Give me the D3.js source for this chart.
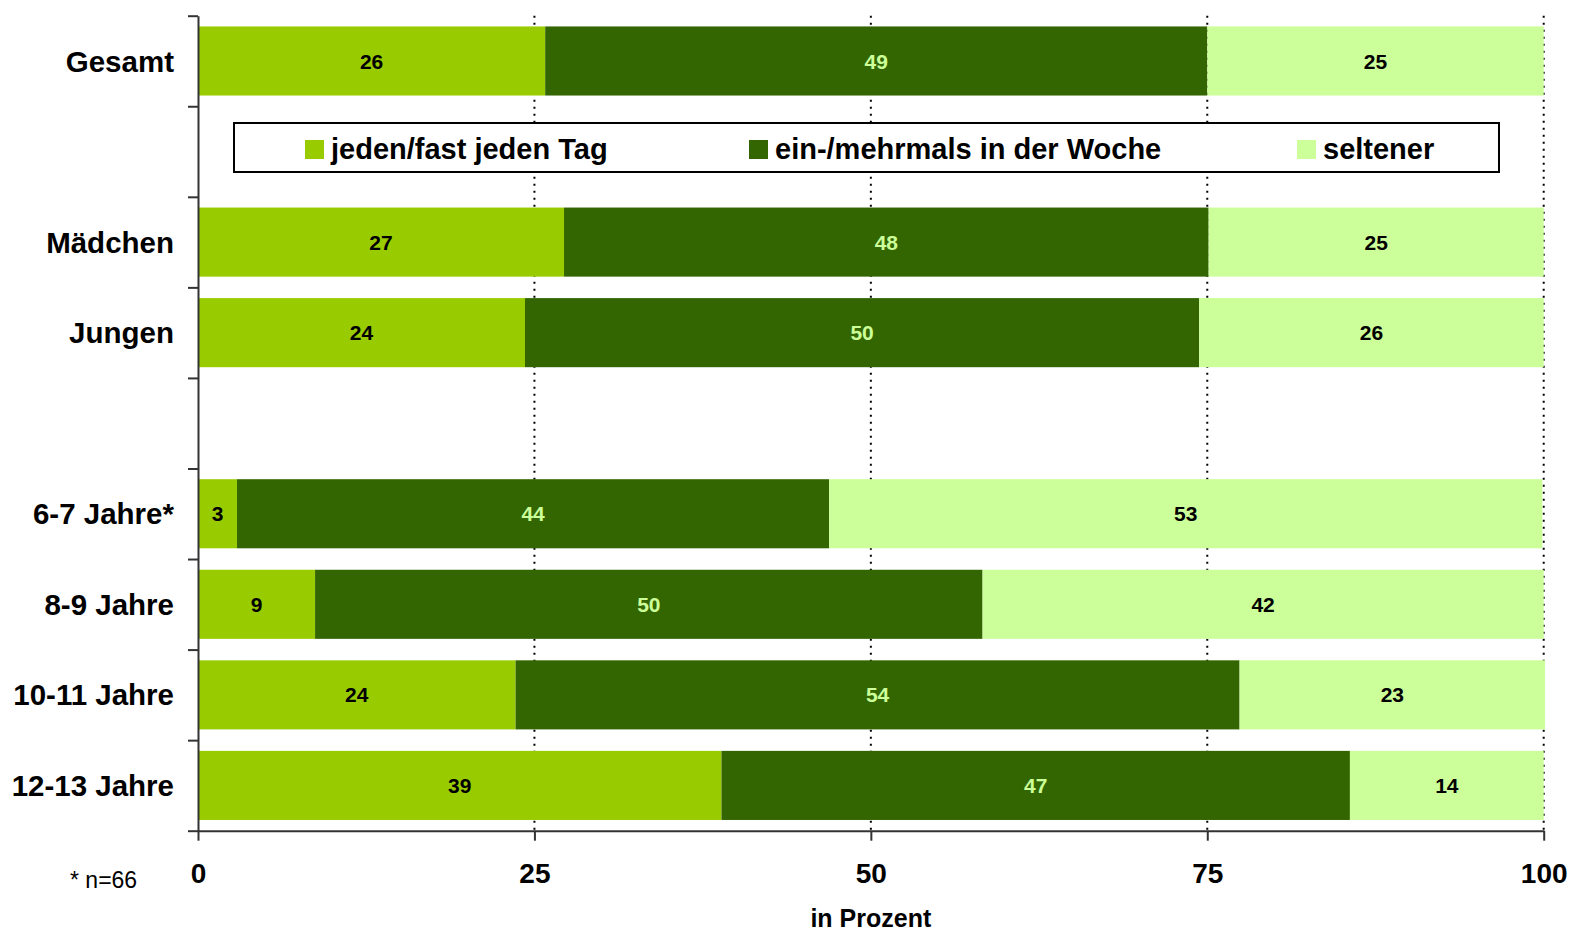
<!DOCTYPE html>
<html>
<head>
<meta charset="utf-8">
<script src="https://cdn.jsdelivr.net/npm/d3@7"></script>
<style>
  html, body { margin: 0; padding: 0; background: #fff; }
  svg { display: block; font-family: "Liberation Sans", Arial, sans-serif; }
</style>
</head>
<body>
<svg id="chart" width="1576" height="938"></svg>
<script>
// ---- data ----
const slots = ["Gesamt", "", "Mädchen", "Jungen", "", "6-7 Jahre*", "8-9 Jahre", "10-11 Jahre", "12-13 Jahre"];
const categories = ["Gesamt", "Mädchen", "Jungen", "6-7 Jahre*", "8-9 Jahre", "10-11 Jahre", "12-13 Jahre"];
const seriesNames = ["jeden/fast jeden Tag", "ein-/mehrmals in der Woche", "seltener"];
const daily  = [25.8, 27.2, 24.3, 2.9, 8.7, 23.6, 38.9];
const weekly = [49.2, 47.9, 50.1, 44.0, 49.6, 53.8, 46.7];
const rarely = [25.0, 24.9, 25.6, 53.0, 41.7, 22.7, 14.4];
const xTicks = [0, 25, 50, 75, 100];
const gridValues = [25, 50, 75, 100];
const footnote = "* n=66";
const xTitle = "in Prozent";

const colors = ["#99CC00", "#336600", "#CCFF99"];
const labelColors = ["#000000", "#CCFF99", "#000000"];

// ---- layout ----
const svg = d3.select("#chart");
const x = d3.scaleLinear().domain([0, 100]).range([198, 1543.7]);
const yTop = 15.7, yBottom = 830.7;
const slotKeys = slots.map((s, i) => i);
const y = d3.scaleBand().domain(slotKeys).range([yTop, yBottom]).paddingInner(0.237).paddingOuter(0.1185);
const ySlot = d3.scaleLinear().domain([0, slots.length]).range([yTop, yBottom]);

const rows = categories.map((c, i) => ({ cat: c, slot: slots.indexOf(c), vals: [daily[i], weekly[i], rarely[i]] }));
const stackData = rows.map(r => ({ slot: r.slot, s0: r.vals[0], s1: r.vals[1], s2: r.vals[2] }));
const stacked = d3.stack().keys(["s0", "s1", "s2"])(stackData);

// gridlines (under bars)
svg.append("g").selectAll("line").data(gridValues).join("line")
  .attr("x1", d => x(d)).attr("x2", d => x(d))
  .attr("y1", yTop).attr("y2", yBottom)
  .attr("stroke", "#000").attr("stroke-width", 2)
  .attr("stroke-dasharray", "2,5");

// bars
const layers = svg.append("g").selectAll("g").data(stacked).join("g")
  .attr("fill", (d, i) => colors[i]);
layers.selectAll("rect").data(d => d).join("rect")
  .attr("x", d => x(d[0]))
  .attr("y", d => y(d.data.slot))
  .attr("width", d => x(d[1]) - x(d[0]))
  .attr("height", y.bandwidth());

// value labels
const labelG = svg.append("g");
stacked.forEach((layer, li) => {
  labelG.selectAll(null).data(layer).join("text")
    .attr("x", d => (x(d[0]) + x(d[1])) / 2)
    .attr("y", d => y(d.data.slot) + y.bandwidth() / 2)
    .attr("dy", "0.36em")
    .attr("text-anchor", "middle")
    .attr("font-size", 21).attr("font-weight", "bold")
    .attr("fill", labelColors[li])
    .text(d => d3.format(".0f")(d[1] - d[0]));
});

// y axis (ticks between slots)
const yAxis = svg.append("g").attr("transform", "translate(198,0)")
  .call(d3.axisLeft(ySlot).tickValues(d3.range(slots.length + 1)).tickFormat("").tickSize(10).tickSizeOuter(0));
yAxis.selectAll("path, line").attr("stroke", "#333").attr("stroke-width", 2);

// category labels
svg.append("g").selectAll("text").data(rows).join("text")
  .attr("x", 174)
  .attr("y", d => y(d.slot) + y.bandwidth() / 2)
  .attr("dy", "0.36em")
  .attr("text-anchor", "end")
  .attr("font-size", 29.5).attr("font-weight", "bold").attr("fill", "#000")
  .text(d => d.cat);

// x axis
const xAxis = svg.append("g").attr("transform", `translate(0,${yBottom})`)
  .call(d3.axisBottom(x).tickValues(xTicks).tickSize(10).tickSizeOuter(0).tickPadding(22));
xAxis.selectAll("path, line").attr("stroke", "#333").attr("stroke-width", 2);
xAxis.selectAll("text").attr("font-size", 28).attr("font-weight", "bold").attr("fill", "#000")
  .attr("font-family", "Liberation Sans, Arial, sans-serif");

// axis title
svg.append("text").attr("x", x(50)).attr("y", 927)
  .attr("text-anchor", "middle").attr("font-size", 25).attr("font-weight", "bold")
  .text(xTitle);

// footnote
svg.append("text").attr("x", 70).attr("y", 888)
  .attr("font-size", 23).text(footnote);

// legend
const legend = svg.append("g");
legend.append("rect").attr("x", 234).attr("y", 123).attr("width", 1265).attr("height", 49)
  .attr("fill", "#fff").attr("stroke", "#000").attr("stroke-width", 2);
const legendX = [305, 749, 1297];
const li = legend.selectAll("g.item").data(seriesNames).join("g").attr("class", "item")
  .attr("transform", (d, i) => `translate(${legendX[i]},0)`);
li.append("rect").attr("x", 0).attr("y", 140).attr("width", 19).attr("height", 19)
  .attr("fill", (d, i) => colors[i]);
li.append("text").attr("x", 26).attr("y", 149).attr("dy", "0.36em")
  .attr("font-size", 29).attr("font-weight", "bold").text(d => d);
</script>
</body>
</html>
